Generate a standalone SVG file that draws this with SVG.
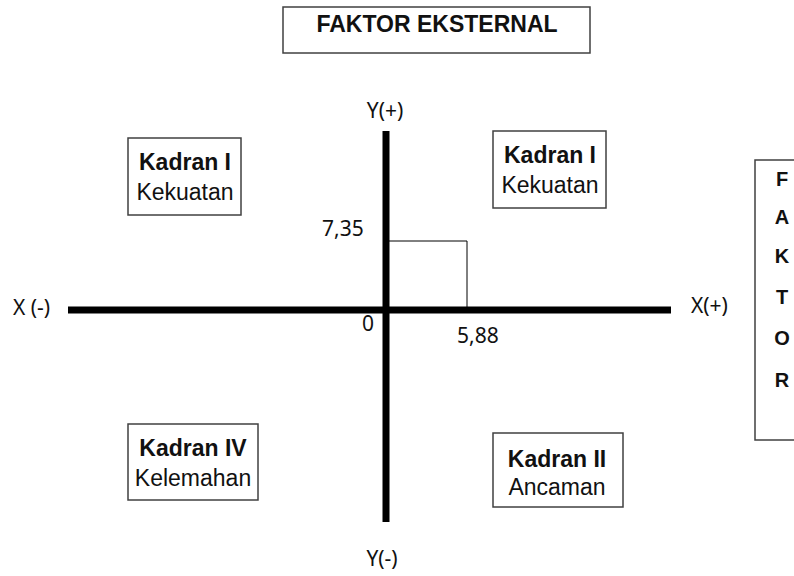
<svg xmlns="http://www.w3.org/2000/svg" width="794" height="576" viewBox="0 0 794 576">
<style>
.box{fill:#fff;stroke:#404040;stroke-width:1.5}
.b{font-family:"Liberation Sans",Arial,sans-serif;font-weight:bold;font-size:23px;fill:#111;text-anchor:middle}
.n{font-family:"Liberation Sans",Arial,sans-serif;font-size:23px;fill:#111;text-anchor:middle}
.lab{font-family:"Noto Sans","DejaVu Sans",sans-serif;font-size:21px;fill:#111}
.ax{stroke:#000;stroke-width:7}
</style>
<rect width="794" height="576" fill="#fff"/>
<g id="title">
<rect class="box" x="283" y="7" width="307" height="46"/>
<text class="b" x="437" y="32">FAKTOR EKSTERNAL</text>
</g>
<g id="faktor-side">
<rect class="box" x="755" y="160" width="45" height="280"/>
<g class="b" style="font-size:20px">
<text x="782" y="186">F</text>
<text x="782" y="224">A</text>
<text x="782" y="263">K</text>
<text x="782" y="304">T</text>
<text x="782" y="345">O</text>
<text x="782" y="387">R</text>
</g>
</g>
<g id="connectors">
<line class="ax" x1="68" y1="310" x2="671" y2="310"/>
<line class="ax" x1="386" y1="131" x2="386" y2="522"/>
<polyline points="389,241 467,241 467,307" fill="none" stroke="#000" stroke-width="1"/>
</g>
<g id="labels">
<text class="lab" x="385" y="118" text-anchor="middle">Y(+)</text>
<text class="lab" x="382" y="566" text-anchor="middle">Y(-)</text>
<text class="lab" x="13" y="315">X (-)</text>
<text class="lab" x="691" y="313">X(+)</text>
<text class="lab" x="322" y="236">7,35</text>
<text class="lab" x="362" y="331">0</text>
<text class="lab" x="457" y="343">5,88</text>
</g>
<g id="kadran-1-left">
<rect class="box" x="128" y="138" width="113" height="77"/>
<text class="b" x="185" y="170">Kadran I</text>
<text class="n" x="185" y="200">Kekuatan</text>
</g>
<g id="kadran-1-right">
<rect class="box" x="493" y="131" width="113" height="77"/>
<text class="b" x="550" y="163">Kadran I</text>
<text class="n" x="550" y="193">Kekuatan</text>
</g>
<g id="kadran-4">
<rect class="box" x="128" y="424" width="130" height="76"/>
<text class="b" x="193" y="456">Kadran IV</text>
<text class="n" x="193" y="486">Kelemahan</text>
</g>
<g id="kadran-2">
<rect class="box" x="493" y="433" width="130" height="74"/>
<text class="b" x="557" y="467">Kadran II</text>
<text class="n" x="557" y="495">Ancaman</text>
</g>
</svg>
